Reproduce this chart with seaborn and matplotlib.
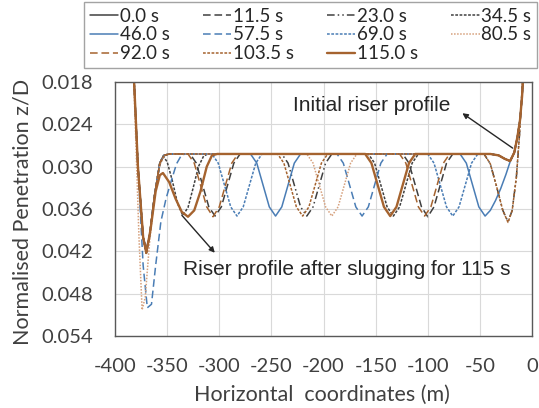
import pandas as pd
import matplotlib
matplotlib.use('Agg')
from matplotlib import pyplot as plt
import seaborn as sns

#======== data ========#
times = ['0.0 s', '11.5 s', '23.0 s', '34.5 s', '46.0 s', '57.5 s',
         '69.0 s', '80.5 s', '92.0 s', '103.5 s', '115.0 s']

x_000 = [-387, -378, -373, -370, -367, -362, -357, -353, -348,
         -40, -32, -26, -21, -17, -14, -11.5, -9.5, -8, -6]
y_000 = [0.0005, 0.030, 0.040, 0.0422, 0.040, 0.034, 0.0295, 0.0284, 0.0282,
         0.0282, 0.0284, 0.0289, 0.0292, 0.0280, 0.0258, 0.0234, 0.0200, 0.0160, 0.0100]

x_115 = [-387, -378, -373, -370, -367, -362, -357, -353, -348,
         -328, -322, -316, -310, -304, -298, -292, -286, -280,
         -124, -118, -112, -106, -100, -94, -88, -82, -76,
         -40, -32, -26, -21, -17, -14, -11.5, -9.5, -8, -6]
y_115 = [0.0005, 0.030, 0.040, 0.0418, 0.040, 0.034, 0.0295, 0.0284, 0.0282,
         0.0282, 0.0295, 0.0326, 0.0357, 0.0370, 0.0357, 0.0326, 0.0295, 0.0282,
         0.0282, 0.0295, 0.0326, 0.0357, 0.0371, 0.0357, 0.0326, 0.0295, 0.0282,
         0.0282, 0.0284, 0.0289, 0.0292, 0.0280, 0.0258, 0.0234, 0.0200, 0.0160, 0.0100]

x_230 = [-387, -378, -373, -370, -367, -362, -357, -353, -348,
         -240, -234, -228, -222, -216, -210, -204, -198, -192,
         -46, -40, -34, -28, -23, -19, -15, -12, -9.5, -7]
y_230 = [0.0005, 0.030, 0.040, 0.0420, 0.040, 0.034, 0.0295, 0.0284, 0.0282,
         0.0282, 0.0295, 0.0326, 0.0357, 0.0370, 0.0357, 0.0326, 0.0295, 0.0282,
         0.0282, 0.0296, 0.0328, 0.0362, 0.0378, 0.0362, 0.0315, 0.0255, 0.0190, 0.0120]

x_345 = [-387, -378, -373, -370, -367, -362, -357, -354, -350, -345, -340, -335,
         -330, -325, -320, -315, -311,
         -157, -151, -145, -139, -133, -127, -121, -115, -109,
         -40, -32, -26, -21, -17, -14, -11.5, -9.5, -8, -6]
y_345 = [0.0005, 0.030, 0.040, 0.0424, 0.040, 0.034, 0.0295, 0.0285, 0.0293, 0.0320, 0.0352, 0.0369,
         0.0358, 0.0330, 0.0300, 0.0285, 0.0282,
         0.0282, 0.0295, 0.0326, 0.0357, 0.0370, 0.0357, 0.0326, 0.0295, 0.0282,
         0.0282, 0.0284, 0.0289, 0.0292, 0.0280, 0.0258, 0.0234, 0.0200, 0.0160, 0.0100]

x_460 = [-387, -378, -373, -370, -367, -362, -357, -353, -348,
         -270, -264, -258, -252, -246, -240, -234, -228, -222,
         -69, -63, -57, -51, -45, -40, -35, -30, -25, -21, -17, -14, -11.5, -9.5, -8, -6]
y_460 = [0.0005, 0.030, 0.040, 0.0416, 0.040, 0.034, 0.0295, 0.0284, 0.0282,
         0.0282, 0.0295, 0.0326, 0.0357, 0.0370, 0.0357, 0.0326, 0.0295, 0.0282,
         0.0282, 0.0295, 0.0326, 0.0357, 0.0370, 0.0362, 0.0348, 0.0331, 0.0311, 0.0293,
         0.0280, 0.0258, 0.0234, 0.0200, 0.0160, 0.0100]

x_575 = [-387, -378, -373, -369, -365, -361, -356, -351, -346, -341, -336, -331,
         -187, -181, -175, -169, -163, -157, -151, -145, -139,
         -40, -32, -26, -21, -17, -14, -11.5, -9.5, -8, -6]
y_575 = [0.0005, 0.030, 0.044, 0.050, 0.0495, 0.044, 0.0378, 0.0345, 0.0320, 0.0296, 0.0283, 0.0282,
         0.0282, 0.0295, 0.0326, 0.0357, 0.0370, 0.0357, 0.0326, 0.0295, 0.0282,
         0.0282, 0.0284, 0.0289, 0.0292, 0.0280, 0.0258, 0.0234, 0.0200, 0.0160, 0.0100]

x_690 = [-387, -378, -373, -370, -367, -362, -357, -353, -348,
         -307, -301, -295, -289, -283, -277, -271, -265, -259,
         -100, -94, -88, -82, -76, -70, -64, -58, -52,
         -40, -32, -26, -21, -17, -14, -11.5, -9.5, -8, -6]
y_690 = [0.0005, 0.030, 0.040, 0.0421, 0.040, 0.034, 0.0295, 0.0284, 0.0282,
         0.0282, 0.0295, 0.0326, 0.0357, 0.0370, 0.0357, 0.0326, 0.0295, 0.0282,
         0.0282, 0.0295, 0.0326, 0.0357, 0.0370, 0.0357, 0.0326, 0.0295, 0.0282,
         0.0282, 0.0284, 0.0289, 0.0292, 0.0280, 0.0258, 0.0234, 0.0200, 0.0160, 0.0100]

x_805 = [-387, -381, -377, -374, -371, -367, -362, -357, -352, -348,
         -216, -210, -204, -198, -192, -186, -180, -174, -168,
         -40, -32, -26, -21, -17, -14, -11.5, -9.5, -8, -6]
y_805 = [0.0005, 0.022, 0.040, 0.0503, 0.0485, 0.041, 0.034, 0.0297, 0.0284, 0.0282,
         0.0282, 0.0295, 0.0326, 0.0357, 0.0370, 0.0357, 0.0326, 0.0295, 0.0282,
         0.0282, 0.0284, 0.0289, 0.0292, 0.0280, 0.0258, 0.0234, 0.0200, 0.0160, 0.0100]

x_920 = [-387, -378, -373, -370, -367, -362, -357, -353, -348,
         -330, -324, -318, -312, -306, -300, -294, -288, -282,
         -127, -121, -115, -109, -103, -97, -91, -85, -79,
         -40, -32, -26, -21, -17, -14, -11.5, -9.5, -8, -6]
y_920 = [0.0005, 0.030, 0.040, 0.0423, 0.040, 0.034, 0.0295, 0.0284, 0.0282,
         0.0282, 0.0295, 0.0326, 0.0357, 0.0371, 0.0357, 0.0326, 0.0295, 0.0282,
         0.0282, 0.0295, 0.0326, 0.0357, 0.0370, 0.0357, 0.0326, 0.0295, 0.0282,
         0.0282, 0.0284, 0.0289, 0.0292, 0.0280, 0.0258, 0.0234, 0.0200, 0.0160, 0.0100]

x_1035 = [-387, -378, -373, -370, -367, -362, -357, -353, -348,
          -244, -238, -232, -226, -220, -214, -208, -202, -196,
          -46, -40, -34, -28, -23, -19, -15, -12, -9.5, -7]
y_1035 = [0.0005, 0.030, 0.040, 0.0419, 0.040, 0.034, 0.0295, 0.0284, 0.0282,
          0.0282, 0.0295, 0.0326, 0.0357, 0.0370, 0.0357, 0.0326, 0.0295, 0.0282,
          0.0282, 0.0296, 0.0328, 0.0362, 0.0379, 0.0362, 0.0315, 0.0255, 0.0190, 0.0120]

x_1150 = [-387, -378, -373, -370, -366, -361, -357, -354, -348, -342, -336,
          -330, -324, -318, -312, -307, -302,
          -160, -154, -148, -142, -136, -130, -124, -118, -112,
          -40, -32, -26, -21, -17, -14, -11.5, -9.5, -8, -6]
y_1150 = [0.0005, 0.030, 0.040, 0.0422, 0.039, 0.0335, 0.0312, 0.0309, 0.0322, 0.0345, 0.0364,
          0.0371, 0.0362, 0.0335, 0.0300, 0.0284, 0.0282,
          0.0282, 0.0295, 0.0326, 0.0357, 0.0370, 0.0357, 0.0326, 0.0295, 0.0282,
          0.0282, 0.0284, 0.0289, 0.0292, 0.0280, 0.0258, 0.0234, 0.0200, 0.0160, 0.0100]

xs = [x_000, x_115, x_230, x_345, x_460, x_575, x_690, x_805, x_920, x_1035, x_1150]
ys = [y_000, y_115, y_230, y_345, y_460, y_575, y_690, y_805, y_920, y_1035, y_1150]

#======== styles ========#
K = '#404040'
B = '#4a7db5'
BR = '#a5632f'
LBR = '#d6a07c'
colors = [K, K, K, K, B, B, B, LBR, BR, BR, BR]
long_dash = (0, (5, 2.5))
dash_dot_dot = (0, (5, 2, 1, 2, 1, 2))
short_dash = (0, (1.8, 1))
fine_dot = (0, (1, 1))
styles = ['-', long_dash, dash_dot_dot, short_dash, '-', long_dash, short_dash,
          fine_dot, long_dash, short_dash, '-']
widths = [1.1] * 10 + [1.7]

sns.set_style('whitegrid')
plt.rcParams['font.family'] = ['Lato', 'DejaVu Sans']
plt.rcParams['axes.unicode_minus'] = False

fig = plt.figure(figsize=(5.39, 4.08), dpi=100)
ax = fig.add_axes([115 / 539, 1 - 336 / 408, 417 / 539, 254 / 408])

for i in range(len(times)):
    df = pd.DataFrame({'x': xs[i], 'y': ys[i]})
    sns.lineplot(x='x', y='y', data=df, ax=ax, color=colors[i], linestyle=styles[i],
                 linewidth=widths[i], label=times[i], sort=False, estimator=None)

ax.set_xlim(-400, 0)
ax.set_ylim(0.054, 0.018)
ax.set_xticks(range(-400, 1, 50))
ax.set_yticks([0.018, 0.024, 0.030, 0.036, 0.042, 0.048, 0.054])
ax.set_yticklabels([f'{v:.3f}' for v in ax.get_yticks()])
ax.tick_params(length=0, labelsize=14.5, labelcolor='#404040', pad=16)
ax.grid(color='#d9d9d9', linewidth=0.8)
for s in ax.spines.values():
    s.set_color('#595959')
    s.set_linewidth(1.0)

ax.set_xlabel('Horizontal  coordinates (m)', fontsize=15.5, color='#404040')
ax.set_ylabel('Normalised Penetration z/D', fontsize=15.5, color='#404040')
ax.xaxis.set_label_coords(0.497, -0.193)
ax.yaxis.set_label_coords(-0.197, 0.49)

# annotations
ann_font = dict(family=['Liberation Sans', 'DejaVu Sans'], fontsize=15, color='#262626')
ax.text(-154, 0.0214, 'Initial riser profile', ha='center', va='center', **ann_font)
ax.annotate('', xy=(-69, 0.0222), xytext=(-16.3, 0.0276),
            arrowprops=dict(arrowstyle='-|>', color='#262626', lw=1.0, mutation_scale=8))
ax.text(-178, 0.0446, 'Riser profile after slugging for 115 s', ha='center', va='center', **ann_font)
ax.annotate('', xy=(-302.5, 0.0425), xytext=(-337.6, 0.0366),
            arrowprops=dict(arrowstyle='-|>', color='#262626', lw=1.0, mutation_scale=8))

# legend, row-major like the original
ax.get_legend().remove()
handles, labels = ax.get_legend_handles_labels()
order = [0, 4, 8, 1, 5, 9, 2, 6, 10, 3, 7]
leg = fig.legend([handles[i] for i in order], [labels[i] for i in order],
                 loc='upper left', bbox_to_anchor=(84 / 539, 1 - 2 / 408, 453 / 539, 0.0),
                 mode='expand', ncol=4, fontsize=13.5, frameon=True, fancybox=False,
                 borderaxespad=0, handlelength=1.5, handletextpad=0.1,
                 labelspacing=0.1, borderpad=0.3, columnspacing=0.5)
leg.get_frame().set_edgecolor('#8c8c8c')
leg.get_frame().set_linewidth(1.0)
for t in leg.get_texts():
    t.set_color('#262626')

plt.savefig('out.png', dpi=100)
